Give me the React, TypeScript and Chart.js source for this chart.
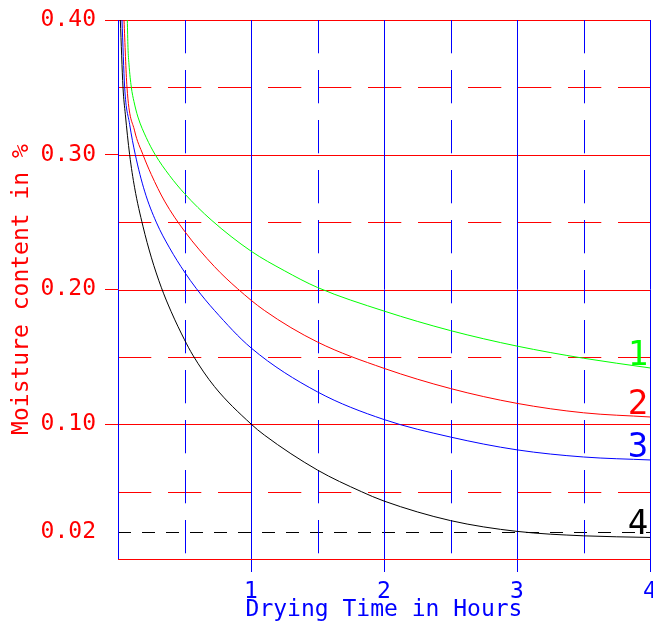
import React, { useEffect, useRef } from "react";
import { Chart, registerables } from "chart.js";

Chart.register(...registerables);

// ---- data (hours, moisture fraction) ----
const curve1Hours = [0.07, 0.075, 0.0825, 0.1, 0.12, 0.15, 0.2125, 0.28, 0.3875, 0.5, 0.7, 1.0, 1.25, 1.5, 2.0, 2.5, 3.0, 3.5, 4.0];
const curve1Moisture = [0.4, 0.3797, 0.3673, 0.3502, 0.3395, 0.328, 0.3127, 0.3, 0.2846, 0.2712, 0.2517, 0.2285, 0.214, 0.2015, 0.184, 0.1695, 0.158, 0.149, 0.1418];

const curve2Hours = [0.045, 0.0675, 0.125, 0.1875, 0.25, 0.35, 0.5, 0.725, 0.9, 1.1, 1.5, 2.0, 2.5, 3.0, 3.5, 4.0];
const curve2Moisture = [0.4, 0.3502, 0.3177, 0.3001, 0.2854, 0.2656, 0.2433, 0.217, 0.2005, 0.1845, 0.161, 0.1415, 0.1265, 0.1155, 0.1085, 0.1054];

const curve3Hours = [0.03, 0.05, 0.0875, 0.13, 0.2, 0.2875, 0.3875, 0.5, 0.5875, 0.725, 1.0, 1.5, 2.0, 2.5, 3.0, 3.5, 4.0];
const curve3Moisture = [0.4, 0.3502, 0.3226, 0.3001, 0.273, 0.25, 0.2309, 0.213, 0.2009, 0.1845, 0.1567, 0.124, 0.1035, 0.0905, 0.081, 0.0757, 0.0735];

const curve4Hours = [0.0175, 0.0375, 0.055, 0.0875, 0.125, 0.1875, 0.25, 0.325, 0.4, 0.5, 0.5625, 0.725, 1.0, 1.1, 1.5, 1.83, 2.0, 2.5, 3.0, 3.5, 4.0];
const curve4Moisture = [0.4, 0.3502, 0.3301, 0.3001, 0.2755, 0.247, 0.224, 0.2017, 0.1835, 0.1627, 0.1513, 0.128, 0.1002, 0.092, 0.066, 0.05, 0.043, 0.0285, 0.0205, 0.0172, 0.016];

const curveLabels = ["1", "2", "3", "4"];

const yTickValues = [0.02, 0.1, 0.2, 0.3, 0.4];
const xTickValues = [1, 2, 3, 4];
const solidXGrid = [0, 1, 2, 3, 4];
const dashedXGrid = [0.5, 1.5, 2.5, 3.5];
const solidYGrid = [0, 0.1, 0.2, 0.3, 0.4];
const dashedYGrid = [0.05, 0.15, 0.25, 0.35];
const referenceLevel = 0.02;

const xTitle = "Drying Time in Hours";
const yTitle = "Moisture content in %";

// ---- styles ----
const RED = "#ff0000";
const BLUE = "#0000ff";
const GREEN = "#00ff00";
const BLACK = "#000000";
const curveColors = [GREEN, RED, BLUE, BLACK];
const FONT = "'DejaVu Sans Mono', monospace";

const gridPlugin = {
  id: "cadGrid",
  beforeDatasetsDraw(chart: any) {
    const { ctx, chartArea: a, scales } = chart;
    const xs = scales.x;
    const ys = scales.y;
    ctx.save();
    ctx.lineWidth = 1;
    const h = (v: number, color: string, dash: number[]) => {
      const py = Math.round(ys.getPixelForValue(v)) + 0.5;
      ctx.strokeStyle = color;
      ctx.setLineDash(dash);
      ctx.beginPath();
      ctx.moveTo(a.left, py);
      ctx.lineTo(a.right, py);
      ctx.stroke();
    };
    const vline = (v: number, color: string, dash: number[]) => {
      const px = Math.round(xs.getPixelForValue(v)) + 0.5;
      ctx.strokeStyle = color;
      ctx.setLineDash(dash);
      ctx.beginPath();
      ctx.moveTo(px, a.top);
      ctx.lineTo(px, a.bottom);
      ctx.stroke();
    };
    dashedYGrid.forEach((v) => h(v, RED, [33.3, 16.7]));
    solidYGrid.forEach((v) => h(v, RED, []));
    h(referenceLevel, BLACK, [13, 11]);
    dashedXGrid.forEach((v) => vline(v, BLUE, [33.3, 16.7]));
    solidXGrid.forEach((v) => vline(v, BLUE, []));
    ctx.restore();
  },
  afterDatasetsDraw(chart: any) {
    const { ctx, scales } = chart;
    const xs = scales.x;
    const ys = scales.y;
    ctx.save();
    ctx.font = `34px ${FONT}`;
    ctx.textAlign = "center";
    ctx.textBaseline = "alphabetic";
    chart.data.datasets.forEach((ds: any, i: number) => {
      const last = ds.data[ds.data.length - 1];
      ctx.fillStyle = curveColors[i];
      ctx.fillText(curveLabels[i], xs.getPixelForValue(last.x) - 12, ys.getPixelForValue(last.y) - 3);
    });
    ctx.restore();
  },
};

export default function App() {
  const ref = useRef<HTMLCanvasElement | null>(null);
  useEffect(() => {
    if (!ref.current) return;
    const series = [
      [curve1Hours, curve1Moisture],
      [curve2Hours, curve2Moisture],
      [curve3Hours, curve3Moisture],
      [curve4Hours, curve4Moisture],
    ];
    const chart = new Chart(ref.current, {
      type: "line",
      data: {
        datasets: series.map(([hx, my], i) => ({
          label: curveLabels[i],
          data: hx.map((x, j) => ({ x, y: my[j] })),
          borderColor: curveColors[i],
          backgroundColor: curveColors[i],
          borderWidth: 1,
          pointRadius: 0,
          cubicInterpolationMode: "monotone" as const,
          fill: false,
        })),
      },
      options: {
        responsive: false,
        animation: false,
        devicePixelRatio: 1,
        layout: { padding: { left: 0, right: 3, top: 20, bottom: 0 } },
        plugins: { legend: { display: false }, tooltip: { enabled: false } },
        scales: {
          x: {
            type: "linear",
            min: 0,
            max: 4,
            afterBuildTicks: (s: any) => {
              s.ticks = xTickValues.map((value) => ({ value }));
            },
            afterFit: (s: any) => {
              s.height = 67;
              s.paddingLeft = 0;
              s.paddingRight = 0;
            },
            grid: {
              display: true,
              drawOnChartArea: false,
              drawTicks: true,
              tickLength: 13,
              tickColor: BLUE,
              tickWidth: 1,
            },
            border: { display: false },
            ticks: {
              color: BLUE,
              font: { family: FONT, size: 23 },
              padding: 6,
              maxRotation: 0,
              autoSkip: false,
              callback: (v: any) => String(v),
            },
            title: {
              display: true,
              text: xTitle,
              color: BLUE,
              font: { family: FONT, size: 23 },
              padding: { top: 0, bottom: 2 },
            },
          },
          y: {
            type: "linear",
            min: 0,
            max: 0.4,
            afterBuildTicks: (s: any) => {
              s.ticks = yTickValues.map((value) => ({ value }));
            },
            afterFit: (s: any) => {
              s.width = 118;
              s.paddingTop = 0;
              s.paddingBottom = 0;
            },
            grid: {
              display: true,
              drawOnChartArea: false,
              drawTicks: true,
              tickLength: 13,
              tickWidth: 1,
              tickColor: (c: any) => (c.tick && c.tick.value === referenceLevel ? "rgba(0,0,0,0)" : RED),
            },
            border: { display: false },
            ticks: {
              color: RED,
              font: { family: FONT, size: 23 },
              padding: 9,
              autoSkip: false,
              callback: (v: any) => Number(v).toFixed(2),
            },
            title: {
              display: true,
              text: yTitle,
              color: RED,
              font: { family: FONT, size: 23 },
              padding: { top: 8, bottom: 0 },
            },
          },
        },
      },
      plugins: [gridPlugin],
    } as any);
    return () => chart.destroy();
  }, []);
  return (
    <div style={{ position: "fixed", left: 0, top: 0, width: 653, height: 626, background: "#fff" }}>
      <canvas ref={ref} width={653} height={626} style={{ width: 653, height: 626, display: "block" }} />
    </div>
  );
}
